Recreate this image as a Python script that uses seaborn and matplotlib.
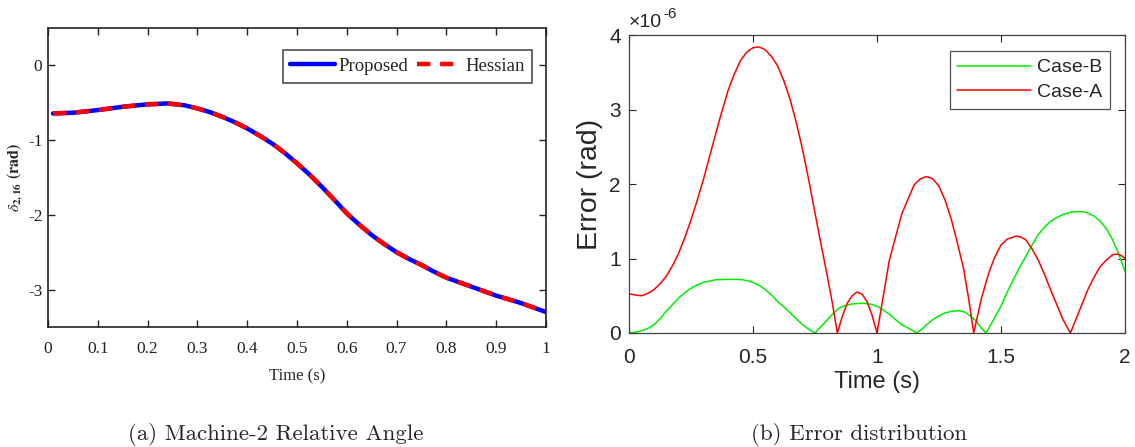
import numpy as np
import pandas as pd
import matplotlib
matplotlib.use("Agg")
import matplotlib.pyplot as plt
import seaborn as sns

# ---------------- data: panel (a) ----------------
time_a = [0.01, 0.05, 0.10, 0.125, 0.15, 0.175, 0.20, 0.24, 0.275, 0.30, 0.325, 0.35,
          0.375, 0.40, 0.425, 0.45, 0.475, 0.50, 0.525, 0.55, 0.575, 0.60, 0.625,
          0.65, 0.675, 0.70, 0.725, 0.75, 0.775, 0.80, 0.825, 0.85, 0.875, 0.90,
          0.925, 0.95, 0.975, 1.00]
proposed = [-0.643, -0.634, -0.598, -0.576, -0.554, -0.537, -0.522, -0.509, -0.535,
            -0.576, -0.625, -0.688, -0.76, -0.844, -0.94, -1.045, -1.17, -1.31, -1.46,
            -1.625, -1.80, -1.98, -2.13, -2.27, -2.39, -2.50, -2.59, -2.67, -2.76,
            -2.84, -2.90, -2.96, -3.02, -3.08, -3.13, -3.18, -3.24, -3.30]
hessian = [-0.643, -0.634, -0.598, -0.576, -0.554, -0.537, -0.522, -0.509, -0.535,
           -0.576, -0.625, -0.688, -0.76, -0.844, -0.94, -1.045, -1.17, -1.31, -1.46,
           -1.625, -1.80, -1.98, -2.13, -2.27, -2.39, -2.50, -2.59, -2.67, -2.76,
           -2.84, -2.90, -2.96, -3.02, -3.08, -3.13, -3.18, -3.24, -3.30]
xticks_a = [0, 0.1, 0.2, 0.3, 0.4, 0.5, 0.6, 0.7, 0.8, 0.9, 1]
xticklabels_a = ["0", "0.1", "0.2", "0.3", "0.4", "0.5", "0.6", "0.7", "0.8", "0.9", "1"]
yticks_a = [0, -1, -2, -3]
yticklabels_a = ["0", "-1", "-2", "-3"]

# ---------------- data: panel (b) (values in 1e-6 rad) ----------------
time_caseA = [0.0, 0.025, 0.05, 0.075, 0.10, 0.125, 0.15, 0.175, 0.20, 0.225, 0.25,
              0.275, 0.30, 0.325, 0.35, 0.375, 0.40, 0.425, 0.45, 0.475, 0.50, 0.52,
              0.54, 0.55, 0.575, 0.60, 0.625, 0.65, 0.675, 0.70, 0.725, 0.75, 0.775,
              0.80, 0.82, 0.84, 0.86, 0.88, 0.90, 0.92, 0.94, 0.96, 0.98, 1.00, 1.05,
              1.10, 1.15, 1.175, 1.20, 1.225, 1.25, 1.275, 1.30, 1.325, 1.35, 1.37,
              1.39, 1.42, 1.45, 1.475, 1.50, 1.525, 1.56, 1.58, 1.60, 1.625, 1.65,
              1.675, 1.70, 1.725, 1.75, 1.78, 1.81, 1.85, 1.875, 1.90, 1.925, 1.95,
              1.97, 1.985, 2.00]
caseA = [0.527, 0.51, 0.50, 0.53, 0.58, 0.66, 0.76, 0.90, 1.07, 1.28, 1.52,
         1.78, 2.06, 2.37, 2.68, 2.98, 3.26, 3.48, 3.66, 3.77, 3.83, 3.84,
         3.82, 3.80, 3.71, 3.58, 3.38, 3.13, 2.82, 2.46, 2.05, 1.61, 1.18,
         0.76, 0.40, 0.0, 0.22, 0.40, 0.50, 0.55, 0.52, 0.42, 0.24, 0.0, 0.98,
         1.60, 1.99, 2.07, 2.10, 2.07, 1.97, 1.78, 1.52, 1.20, 0.85, 0.45,
         0.0, 0.45, 0.80, 1.02, 1.18, 1.26, 1.30, 1.29, 1.25, 1.13, 0.98,
         0.79, 0.58, 0.38, 0.18, 0.0, 0.25, 0.58, 0.75, 0.89, 0.98, 1.05,
         1.06, 1.04, 1.00]
time_caseB = [0.0, 0.025, 0.05, 0.075, 0.10, 0.125, 0.15, 0.175, 0.20, 0.225, 0.25,
              0.275, 0.30, 0.35, 0.40, 0.43, 0.46, 0.50, 0.525, 0.55, 0.575, 0.60,
              0.625, 0.65, 0.675, 0.70, 0.725, 0.75, 0.775, 0.80, 0.825, 0.85, 0.875,
              0.90, 0.94, 0.97, 1.00, 1.025, 1.05, 1.075, 1.10, 1.13, 1.16, 1.18,
              1.20, 1.225, 1.25, 1.275, 1.30, 1.33, 1.355, 1.38, 1.40, 1.42, 1.44,
              1.47, 1.50, 1.525, 1.55, 1.575, 1.60, 1.625, 1.65, 1.675, 1.70, 1.725,
              1.75, 1.78, 1.81, 1.83, 1.85, 1.875, 1.90, 1.925, 1.95, 1.975, 2.00]
caseB = [0.0, 0.01, 0.03, 0.06, 0.11, 0.19, 0.29, 0.38, 0.47, 0.54, 0.60,
         0.645, 0.68, 0.715, 0.72, 0.72, 0.715, 0.68, 0.64, 0.58, 0.51, 0.42,
         0.35, 0.27, 0.19, 0.11, 0.05, 0.0, 0.09, 0.18, 0.27, 0.34, 0.37,
         0.39, 0.40, 0.39, 0.36, 0.31, 0.25, 0.18, 0.11, 0.06, 0.0, 0.05,
         0.11, 0.18, 0.23, 0.27, 0.29, 0.30, 0.28, 0.22, 0.16, 0.07, 0.0,
         0.18, 0.36, 0.55, 0.72, 0.88, 1.03, 1.18, 1.32, 1.42, 1.50, 1.55,
         1.59, 1.62, 1.63, 1.63, 1.61, 1.57, 1.50, 1.40, 1.25, 1.06, 0.83]
xticks_b = [0, 0.5, 1, 1.5, 2]
xticklabels_b = ["0", "0.5", "1", "1.5", "2"]
yticks_b = [0, 1, 2, 3, 4]
yticklabels_b = ["0", "1", "2", "3", "4"]

# ---------------- style ----------------
sns.set_style("white")
plt.rcParams["mathtext.fontset"] = "stix"
plt.rcParams["font.family"] = ["Liberation Serif", "DejaVu Serif"]

W, H = 1135, 447
fig = plt.figure(figsize=(W / 100, H / 100), dpi=100)

def box(x0, y0, x1, y1):
    return [x0 / W, 1 - y1 / H, (x1 - x0) / W, (y1 - y0) / H]

serif = ["Liberation Serif", "DejaVu Serif"]
sans = ["Liberation Sans", "DejaVu Sans"]

# ---------------- panel (a) ----------------
ax1 = fig.add_axes(box(48, 28, 546, 327))
sns.lineplot(x=time_a, y=proposed, ax=ax1, color="#0000ff", lw=3.2,
             label="Proposed", sort=True, estimator=None)
sns.lineplot(x=time_a, y=hessian, ax=ax1, color="#ff0000", lw=3.2,
             label="Hessian", sort=True, estimator=None, linestyle=(0, (3.0, 2.2)))
ax1.set_xlim(0, 1)
ax1.set_ylim(-3.5, 0.5)
ax1.set_xticks(xticks_a)
ax1.set_xticklabels(xticklabels_a, family=serif, fontsize=12.5)
ax1.set_yticks(yticks_a)
ax1.set_yticklabels(yticklabels_a, family=serif, fontsize=12.5)
ax1.tick_params(direction="in", length=5, width=1, top=True, right=True,
                bottom=True, left=True, colors="#222222")
ax1.tick_params(axis="x", pad=10)
ax1.tick_params(axis="y", pad=4)
for s in ax1.spines.values():
    s.set_color("#222222")
    s.set_linewidth(1.2)
ax1.set_xlabel("Time (s)", family=serif, fontsize=12, labelpad=8)
ax1.set_ylabel(r"$\delta_{\mathbf{2,16}}$ $\mathbf{(rad)}$", fontsize=11.5)
ax1.yaxis.set_label_coords(-0.046, 0.5)
leg1 = ax1.legend(loc="upper right", bbox_to_anchor=(0.972, 0.925), ncol=2,
                  prop={"family": serif, "size": 13.5}, frameon=True, fancybox=False,
                  handlelength=2.4, handletextpad=0.15, columnspacing=0.5,
                  borderpad=0.4, borderaxespad=0)
leg1.get_frame().set_edgecolor("#222222")
leg1.get_frame().set_linewidth(1.2)

# ---------------- panel (b) ----------------
ax2 = fig.add_axes(box(629, 35, 1125, 333))
sns.lineplot(x=time_caseB, y=caseB, ax=ax2, color="#00ee00", lw=1.1,
             label="Case-B", sort=True, estimator=None)
sns.lineplot(x=time_caseA, y=caseA, ax=ax2, color="#ff0000", lw=1.1,
             label="Case-A", sort=True, estimator=None)
ax2.set_xlim(0, 2)
ax2.set_ylim(0, 4)
ax2.set_xticks(xticks_b)
ax2.set_xticklabels(xticklabels_b, family=sans, fontsize=15)
ax2.set_yticks(yticks_b)
ax2.set_yticklabels(yticklabels_b, family=sans, fontsize=15)
ax2.tick_params(direction="in", length=5, width=0.8, top=True, right=True,
                bottom=True, left=True, colors="#262626", labelcolor="#262626")
ax2.tick_params(axis="x", pad=11)
ax2.tick_params(axis="y", pad=6)
for s in ax2.spines.values():
    s.set_color("#404040")
    s.set_linewidth(0.9)
ax2.set_xlabel("Time (s)", family=sans, fontsize=17, color="#262626", labelpad=3)
ax2.set_ylabel("Error (rad)", family=sans, fontsize=20.5, color="#262626", labelpad=4)
ax2.text(0.0, 1.015, "×10", transform=ax2.transAxes, family=sans, fontsize=14,
         color="#262626", ha="left", va="bottom")
ax2.annotate("-6", xy=(0.0, 1.015), xycoords=ax2.transAxes, xytext=(25, 7),
             textcoords="offset points", family=sans, fontsize=11,
             color="#262626", ha="left", va="bottom")
leg2 = ax2.legend(loc="upper right", bbox_to_anchor=(0.97, 0.946),
                  prop={"family": sans, "size": 14}, frameon=True, fancybox=False,
                  handlelength=3.8, handletextpad=0.3, borderpad=0.4,
                  labelspacing=0.35, borderaxespad=0)
leg2.get_frame().set_edgecolor("#262626")
leg2.get_frame().set_linewidth(0.9)

# ---------------- captions ----------------
fig.text(276 / W, 1 - 435 / H, "(a) Machine-2 Relative Angle", family=["cmr10", "DejaVu Serif"],
         fontsize=16.5, ha="center", va="center")
fig.text(859 / W, 1 - 435 / H, "(b) Error distribution", family=["cmr10", "DejaVu Serif"],
         fontsize=16.5, ha="center", va="center")

fig.savefig("out.png", dpi=100)
